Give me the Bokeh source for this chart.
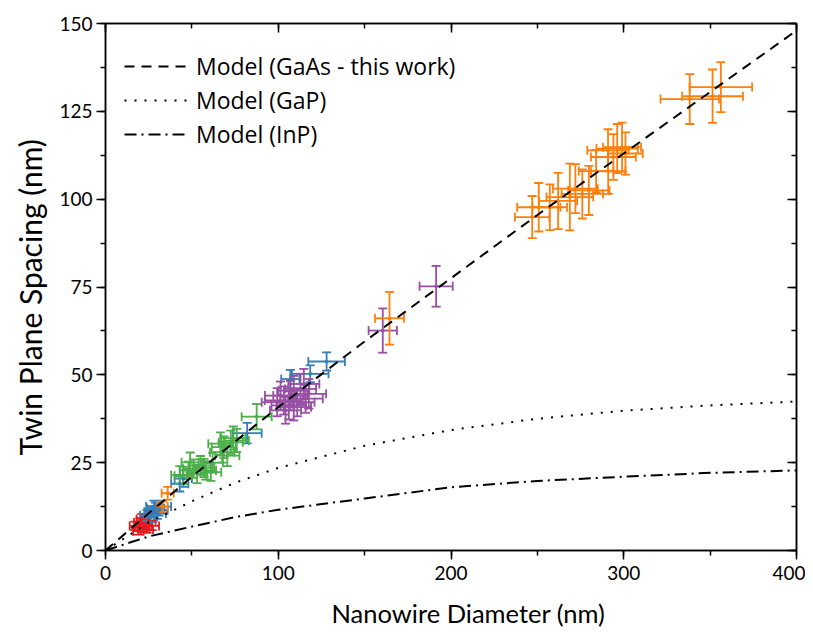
from bokeh.plotting import figure
from bokeh.models import (ColumnDataSource, Whisker, TeeHead, Range1d, LinearAxis,
                          SingleIntervalTicker, Legend, LegendItem, Title)
from bokeh.embed import file_html
from bokeh.resources import INLINE

# ---------------- data ----------------
# model curves
model_x = [0, 25, 50, 75, 100, 150, 200, 250, 300, 350, 400]
gaas_y = [0, 10.6, 21.0, 31.0, 40.8, 59.5, 77.5, 95.5, 113.0, 130.5, 148.0]
gap_y = [0, 8.0, 14.0, 19.3, 23.5, 29.8, 34.3, 37.5, 39.8, 41.3, 42.4]
inp_y = [0, 4.0, 6.8, 9.5, 11.6, 14.8, 18.0, 19.8, 21.0, 22.1, 22.8]

# measured points: red
red_x = [17, 19, 20, 21, 22, 23, 24, 25, 27]
red_y = [7.0, 5.5, 8.0, 9.0, 6.5, 7.5, 6.0, 8.5, 7.0]
red_xerr = [3, 3, 3.5, 3, 3.5, 4, 3.5, 4, 4]
red_yerr = [1.2, 1.0, 1.3, 1.4, 1.1, 1.2, 1.0, 1.3, 1.2]

# blue
blue_x = [24, 26, 27, 28, 29, 30, 31, 33, 43, 45, 82, 107, 118.5, 128]
blue_y = [10.0, 9.5, 11.0, 12.5, 12.0, 10.5, 11.5, 12.5, 19.0, 20.5, 33.4, 48.8, 50.3, 53.8]
blue_xerr = [4, 4, 4.5, 4.5, 5, 5, 5, 5, 5, 5, 8.4, 5.3, 10.6, 10.6]
blue_yerr = [1.5, 1.4, 1.6, 1.7, 1.6, 1.5, 1.6, 1.7, 2.2, 2.4, 2.9, 2.6, 2.4, 2.6]

# green
green_x = [43, 45, 48, 49, 51, 53, 55, 57, 58, 61, 62, 66.5, 67.5, 68.5, 70.5, 72.5, 74, 76, 87.5]
green_y = [21.5, 21.3, 22.8, 25.1, 23.3, 21.8, 24.2, 23.5, 22.8, 22.3, 25.0, 30.4, 28.0, 29.4, 27.0, 30.8, 32.0, 31.3, 38.1]
green_xerr = [5, 5, 5, 5, 6, 6, 6, 6, 6, 6, 6, 7, 7, 7, 7, 7, 7, 7, 8.7]
green_yerr = [2.5, 2.5, 2.5, 2.8, 2.6, 2.6, 2.7, 2.6, 2.6, 2.5, 2.8, 3.2, 3.0, 3.1, 3.0, 3.3, 3.3, 3.3, 3.6]

# purple
purple_x = [99.4, 101.3, 103.2, 104.2, 106.1, 107.1, 109, 109, 111, 112.9, 114.8, 115.8, 117.7, 160.5, 191.4]
purple_y = [42.2, 44.1, 42.7, 39.9, 41.3, 44.1, 45.5, 40.8, 42.2, 46.0, 47.4, 43.2, 44.6, 62.6, 75.2]
purple_xerr = [9, 9, 11, 9, 10, 10, 9, 10, 10, 9, 9, 10, 10, 8.2, 9.6]
purple_yerr = [4, 4, 4, 3.8, 4, 4.2, 4.2, 3.8, 4, 4.3, 4.3, 4, 4.2, 6.3, 5.8]

# orange
orange_x = [33, 36, 164.4, 247, 250.8, 257.2, 262, 268.8, 272, 276, 279.8, 284, 291,
            290.9, 294, 296.2, 299, 301, 338.2, 351.4, 356.2]
orange_y = [12.5, 16.3, 66.1, 94.9, 97.7, 97.7, 99.5, 100.6, 103.0, 101.5, 102.5, 108.0, 108.0,
            113.9, 112.0, 114.4, 114.8, 113.0, 128.5, 129.3, 131.9]
orange_xerr = [3, 3.5, 8.4, 10, 12.5, 10, 11, 13.5, 13, 12, 12, 10, 10,
               12, 13, 12, 11, 10, 16.9, 17.6, 18.1]
orange_yerr = [1.5, 1.8, 7.5, 6, 6.9, 6.5, 8, 9.5, 7, 7, 7, 6, 6.5,
               6, 6.5, 7, 7, 6, 7.1, 7.6, 7.1]

groups = [
    ("#e41a1c", red_x, red_y, red_xerr, red_yerr),
    ("#377eb8", blue_x, blue_y, blue_xerr, blue_yerr),
    ("#4daf4a", green_x, green_y, green_xerr, green_yerr),
    ("#984ea3", purple_x, purple_y, purple_xerr, purple_yerr),
    ("#ff7f0e", orange_x, orange_y, orange_xerr, orange_yerr),
]

# ---------------- figure ----------------
p = figure(frame_width=691, frame_height=527, x_range=Range1d(0, 400), y_range=Range1d(0, 150),
           output_backend="svg", toolbar_location=None,
           min_border_left=105, min_border_right=9, min_border_top=23, min_border_bottom=70)
p.xgrid.visible = False
p.ygrid.visible = False
p.outline_line_color = "black"
p.outline_line_width = 1.5

TICK_FONT = "Lato"

def style_axis(ax, interval, inward, labels):
    ax.ticker = SingleIntervalTicker(interval=interval, num_minor_ticks=2)
    ax.axis_line_color = "black"
    ax.axis_line_width = 1.5
    ax.major_tick_line_width = 1.5
    ax.minor_tick_line_width = 1.5
    ax.major_tick_line_color = "black"
    ax.minor_tick_line_color = "black"
    if inward:
        ax.major_tick_in, ax.major_tick_out = 9, 0
        ax.minor_tick_in, ax.minor_tick_out = 5, 0
    else:
        ax.major_tick_in, ax.major_tick_out = 0, 9
        ax.minor_tick_in, ax.minor_tick_out = 0, 5
    if labels:
        ax.major_label_text_font = TICK_FONT
        ax.major_label_text_font_size = "19px"
        ax.major_label_text_color = "black"
        ax.major_label_standoff = 6
    else:
        ax.major_label_text_font_size = "0px"
        ax.major_label_text_alpha = 0

style_axis(p.xaxis[0], 100, False, True)
style_axis(p.yaxis[0], 25, False, True)
p.yaxis[0].major_label_standoff = 4

top = LinearAxis()
style_axis(top, 100, True, False)
p.add_layout(top, "above")
right = LinearAxis()
style_axis(right, 25, True, False)
p.add_layout(right, "right")

# axis titles (offset like in the reference)
xt = Title(text="Nanowire Diameter (nm)", align="left", offset=226, standoff=26,
           text_font=TICK_FONT, text_font_size="25.5px", text_font_style="normal",
           text_color="black")
p.add_layout(xt, "below")
yt = Title(text="Twin Plane Spacing (nm)", align="left", offset=95, standoff=18,
           text_font=TICK_FONT, text_font_size="30px", text_font_style="normal",
           text_color="black")
p.add_layout(yt, "left")

# ---------------- error bars ----------------
for color, xs, ys, xe, ye in groups:
    src = ColumnDataSource(dict(
        x=xs, y=ys,
        xl=[a - b for a, b in zip(xs, xe)], xu=[a + b for a, b in zip(xs, xe)],
        yl=[a - b for a, b in zip(ys, ye)], yu=[a + b for a, b in zip(ys, ye)],
    ))
    for dim, base, lo, up in (("height", "x", "yl", "yu"), ("width", "y", "xl", "xu")):
        w = Whisker(source=src, base=base, lower=lo, upper=up, dimension=dim,
                    line_color=color, line_width=1.8,
                    lower_head=TeeHead(size=9, line_color=color, line_width=1.8),
                    upper_head=TeeHead(size=9, line_color=color, line_width=1.8))
        p.add_layout(w)
    p.scatter("x", "y", source=src, size=3, color=color)

# ---------------- model lines ----------------
r1 = p.line(model_x, gaas_y, line_color="black", line_width=2, line_dash="10 7")
r2 = p.line(model_x, gap_y, line_color="black", line_width=2, line_dash="2 8")
r3 = p.line(model_x, inp_y, line_color="black", line_width=2, line_dash="12 5 2 5")

legend = Legend(items=[LegendItem(label="Model (GaAs - this work)", renderers=[r1]),
                       LegendItem(label="Model (GaP)", renderers=[r2]),
                       LegendItem(label="Model (InP)", renderers=[r3])],
                location=(19, 400), margin=0, padding=5, spacing=2,
                glyph_width=65, glyph_height=24, label_height=24, label_standoff=7,
                label_text_font="Open Sans", label_text_font_size="23px",
                label_text_color="black",
                border_line_color=None, background_fill_alpha=0)
p.add_layout(legend)

open("out.html", "w").write(file_html(p, INLINE))
